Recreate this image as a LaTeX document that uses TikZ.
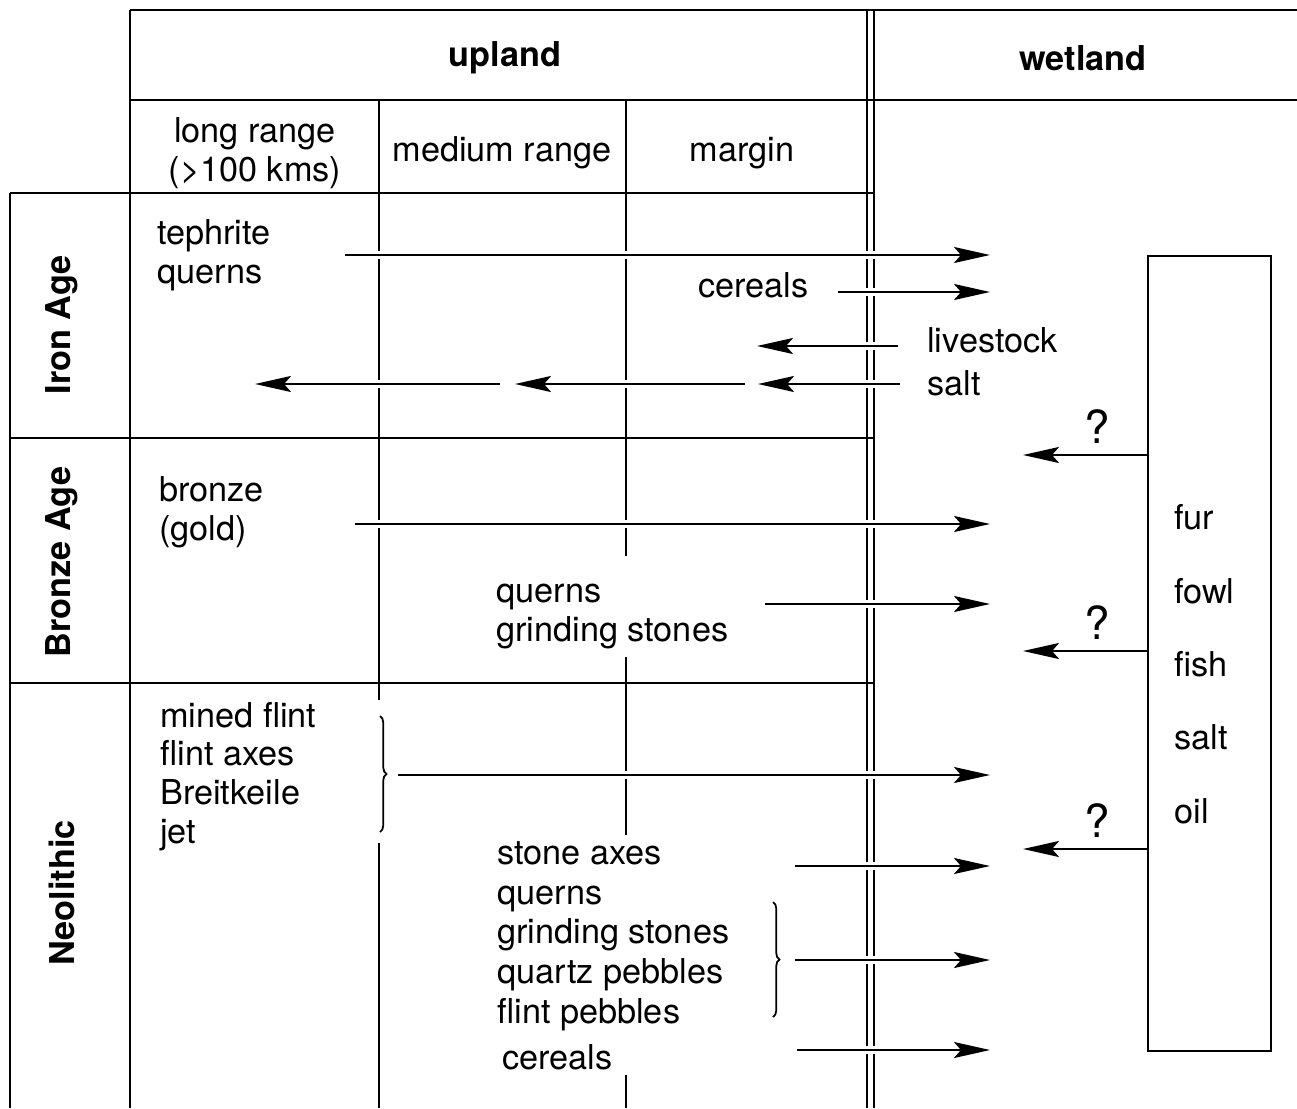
\documentclass[tikz,border=0pt]{standalone}
\usepackage{fontspec}
\setmainfont{TeX Gyre Heros}
\usetikzlibrary{arrows.meta,decorations.pathreplacing}
\newcommand{\txt}{\fontsize{19.5}{22}\selectfont}

\begin{document}
\begin{tikzpicture}[x=0.02cm, y=-0.02cm, font=\txt,
    rule/.style={line width=1pt},
    flow/.style={line width=1.4pt, -{Stealth[length=0.72cm, width=0.32cm, inset=0.14cm]},
        preaction={draw=white, line width=4.5pt, -}},
    item/.style={anchor=base west, align=left, inner sep=0pt},
    head/.style={font=\txt\bfseries},
    period/.style={font=\txt\bfseries, rotate=90},
    query/.style={font=\fontsize{26}{30}\selectfont, inner sep=0pt},
    brace/.style={rule, decorate, decoration={brace, amplitude=0.13cm}}]
    \useasboundingbox (0,0) rectangle (1297,1108);

    % table rules
    \draw[rule] (130,10) -- (1297,10) (130,100) -- (1297,100);
    \draw[rule] (10,193) -- (874,193) (10,438) -- (874,438) (10,683) -- (874,683);
    \draw[rule] (10,1108) -- (10,193) (130,10) -- (130,1108);
    \draw[rule] (379,100) -- (379,700) (379,843) -- (379,1108);
    \draw[rule] (626,100) -- (626,556) (626,657) -- (626,835) (626,1075) -- (626,1108);
    \draw[rule] (867,10) -- (867,1108) (874,10) -- (874,1108);

    % headings
    \node[head] (upland) at (505,58) {upland};
    \node[head] (wetland) at (1083,58) {wetland};
    \node[align=center] (long) at (255,153) {long range\\(\textgreater100 kms)};
    \node (medium) at (502,153) {medium range};
    \node (margin) at (742,153) {margin};
    \node[period] (iron) at (62,325) {Iron Age};
    \node[period] (bronzeage) at (62,562) {Bronze Age};
    \node[period] (neo) at (62,893) {Neolithic};

    % goods (base = last line)
    \node[item] (tephrite) at (157,283) {tephrite\\querns};
    \node[item] (cerealsA) at (698,297) {cereals};
    \node[item] (livestock) at (927,352) {livestock};
    \node[item] (saltA) at (927,395) {salt};
    \node[item] (bronze) at (159,540) {bronze\\(gold)};
    \node[item] (quernsB) at (496,641) {querns\\grinding stones};
    \node[item] (flint) at (160,843) {mined flint\\flint axes\\Breitkeile\\jet};
    \node[item, font=\fontsize{19.5}{22.5}\selectfont] (stone) at (497,1023)
        {stone axes\\querns\\grinding stones\\quartz pebbles\\flint pebbles};
    \node[item] (cerealsN) at (502,1069) {cereals};

    % wetland resources
    \node[draw, rule, anchor=north west, inner sep=0pt, minimum width=2.46cm,
        minimum height=15.9cm] (res) at (1147,255) {};
    \node[item, font=\fontsize{19.5}{41.7}\selectfont] (resitems) at (1174,823)
        {fur\\fowl\\fish\\salt\\oil};

    % arrow ends
    \coordinate (wet) at (990,0);
    \coordinate (a1) at (345,255);
    \coordinate (a2) at (838,292);
    \coordinate (a3) at (898,346);
    \coordinate (a3e) at (757,346);
    \coordinate (s0) at (900,384);
    \coordinate (s1) at (758,384);
    \coordinate (s2) at (745,384);
    \coordinate (s3) at (515,384);
    \coordinate (s4) at (500,384);
    \coordinate (s5) at (255,384);
    \coordinate (c1) at (355,524);
    \coordinate (c2) at (765,604);
    \coordinate (d1) at (398,775);
    \coordinate (d2) at (795,866);
    \coordinate (d3) at (795,960);
    \coordinate (d4) at (797,1050);
    \coordinate (q1) at (1023,455);
    \coordinate (q2) at (1023,651);
    \coordinate (q3) at (1023,849);

    \draw[flow] (a1) -- (a1 -| wet);
    \draw[flow] (a2) -- (a2 -| wet);
    \draw[flow] (a3) -- (a3e);
    \draw[flow] (s0) -- (s1);
    \draw[flow] (s2) -- (s3);
    \draw[flow] (s4) -- (s5);
    \draw[flow] (c1) -- (c1 -| wet);
    \draw[flow] (c2) -- (c2 -| wet);
    \draw[flow] (d1) -- (d1 -| wet);
    \draw[flow] (d2) -- (d2 -| wet);
    \draw[flow] (d3) -- (d3 -| wet);
    \draw[flow] (d4) -- (d4 -| wet);
    \draw[flow] (res.west |- q1) -- (q1) node[query, pos=0.4, above=6pt] (qm1) {?};
    \draw[flow] (res.west |- q2) -- (q2) node[query, pos=0.4, above=6pt] (qm2) {?};
    \draw[flow] (res.west |- q3) -- (q3) node[query, pos=0.4, above=6pt] (qm3) {?};

    % braces
    \draw[brace] (380,716) -- (380,832);
    \draw[brace] (773,902) -- (773,1017);
\end{tikzpicture}
\end{document}
